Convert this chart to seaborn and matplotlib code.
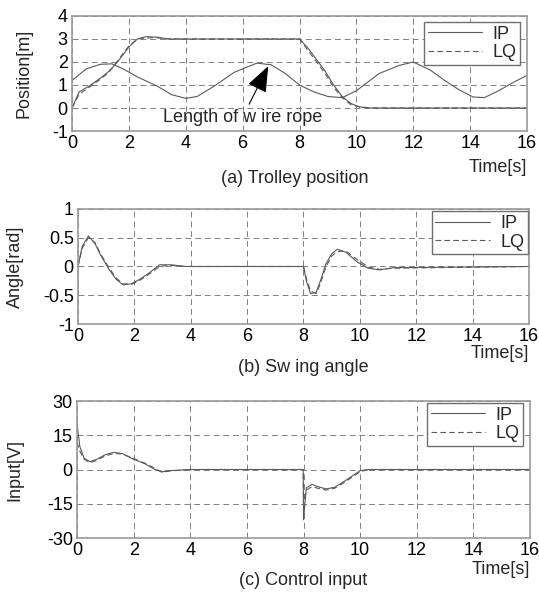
import seaborn as sns
import matplotlib.pyplot as plt

# (a) trolley position [m]
trolley_t_ip = [0, 0.25, 0.6, 1.0, 1.3, 1.6, 2.0, 2.3, 2.6, 3.0, 3.4, 4, 8, 8.3, 8.6, 8.9, 9.2, 9.5, 9.8, 10.1, 10.5, 16]
trolley_ip = [0, 0.7, 0.95, 1.3, 1.6, 2.0, 2.65, 3.0, 3.1, 3.08, 3.0, 3.0, 3.0, 2.6, 2.1, 1.6, 1.0, 0.5, 0.2, 0.05, 0.0, 0.0]
trolley_t_lq = [0, 0.25, 0.6, 1.0, 1.3, 1.6, 2.0, 2.3, 2.6, 3.0, 3.4, 4, 8, 8.3, 8.6, 8.9, 9.2, 9.5, 9.8, 10.1, 10.5, 16]
trolley_lq = [0, 0.6, 0.9, 1.25, 1.55, 2.05, 2.7, 3.0, 3.05, 3.05, 3.0, 3.0, 3.0, 2.5, 2.0, 1.5, 0.9, 0.45, 0.15, 0.05, 0.0, 0.0]

rope_t = [0, 0.5, 1.0, 1.4, 1.8, 2.3, 3.0, 3.5, 4.0, 4.4, 5.0, 5.7, 6.5, 7.0, 7.5, 8.0, 8.5, 9.0, 9.5,
          10.0, 10.8, 11.5, 12.0, 12.6, 13.1, 13.6, 14.1, 14.5, 15.0, 15.5, 16]
rope_len = [1.2, 1.7, 1.9, 1.92, 1.7, 1.35, 0.95, 0.58, 0.42, 0.5, 0.95, 1.55, 1.95, 1.88, 1.5, 1.0, 0.7, 0.5, 0.45,
            0.75, 1.5, 1.85, 2.0, 1.65, 1.2, 0.8, 0.48, 0.45, 0.75, 1.1, 1.42]

# (b) swing angle [rad]
angle_t = [0, 0.15, 0.37, 0.6, 0.8, 1.1, 1.35, 1.6, 1.9, 2.2, 2.5, 2.9, 3.3, 3.8, 8.0, 8.1, 8.25, 8.45, 8.6,
           8.8, 9.0, 9.2, 9.5, 9.9, 10.3, 10.7, 11.2, 16]
angle_ip = [0, 0.35, 0.53, 0.4, 0.2, -0.05, -0.22, -0.32, -0.3, -0.22, -0.12, 0.03, 0.03, 0.0, 0.0, -0.25, -0.47,
            -0.45, -0.25, 0.05, 0.22, 0.3, 0.25, 0.08, -0.03, -0.06, -0.02, 0.0]
angle_lq = [0, 0.32, 0.5, 0.42, 0.22, -0.02, -0.2, -0.3, -0.31, -0.24, -0.14, 0.0, 0.02, 0.0, 0.0, -0.2, -0.43,
            -0.47, -0.3, 0.0, 0.18, 0.26, 0.27, 0.12, -0.01, -0.05, -0.03, 0.0]

# (c) control input [V]
input_t = [0, 0.1, 0.25, 0.45, 0.7, 1.0, 1.3, 1.6, 2.0, 2.4, 2.75, 3.0, 3.3, 4, 7.99, 8.0, 8.1, 8.3, 8.5, 8.8,
           9.1, 9.4, 9.7, 10.0, 10.3, 16]
input_ip = [20, 10, 5, 3.4, 4.5, 6.5, 7.5, 7, 4.5, 2.5, 0, -1, -0.5, 0, 0, -22, -8, -6.5, -7.5, -8.5,
            -7.8, -5.5, -3, -0.5, 0, 0]
input_lq = [12, 8, 4.5, 3.0, 4.0, 6.0, 7.0, 6.8, 4.8, 2.8, 0.5, -1.2, -0.6, 0, 0, -15, -9, -7.5, -8.2, -9,
            -8.2, -6, -3.5, -1, 0, 0]

line_col = "#5a5a5a"
sns.set_style("white")
plt.rcParams["font.family"] = ["Liberation Sans", "DejaVu Sans"]
plt.rcParams["font.size"] = 10.5

fig = plt.figure(figsize=(5.39, 5.92), dpi=100)
ax_a = fig.add_axes([0.1336, 0.7787, 0.8442, 0.1943])
ax_b = fig.add_axes([0.1447, 0.4527, 0.8367, 0.1943])
ax_c = fig.add_axes([0.1429, 0.0912, 0.8404, 0.2314])


def draw(ax, t_ip, y_ip, t_lq, y_lq):
    sns.lineplot(x=t_ip, y=y_ip, ax=ax, color=line_col, lw=0.8, estimator=None, sort=False, label="IP")
    sns.lineplot(x=t_lq, y=y_lq, ax=ax, color=line_col, lw=0.8, estimator=None, sort=False, label="LQ",
                 linestyle=(0, (5, 3)))


draw(ax_a, trolley_t_ip, trolley_ip, trolley_t_lq, trolley_lq)
sns.lineplot(x=rope_t, y=rope_len, ax=ax_a, color=line_col, lw=0.8, estimator=None, sort=False)
draw(ax_b, angle_t, angle_ip, angle_t, angle_lq)
draw(ax_c, input_t, input_ip, input_t, input_lq)

setups = [
    (ax_a, (-1, 4), [-1, 0, 1, 2, 3, 4], "Position[m]", -0.086, "(a) Trolley position", 0.49, -0.41, -0.32, (0.985, 0.948)),
    (ax_b, (-1, 1), [-1, -0.5, 0, 0.5, 1], "Angle[rad]", -0.12, "(b) Sw ing angle", 0.5, -0.38, -0.26, (0.998, 0.98)),
    (ax_c, (-30, 30), [-30, -15, 0, 15, 30], "Input[V]", -0.118, "(c) Control input", 0.5, -0.31, -0.23, (0.985, 0.985)),
]
for ax, ylim, yt, ylab, ylx, title, tx, ty, timey, legpos in setups:
    ax.set_xlim(0, 16)
    ax.set_ylim(*ylim)
    ax.set_xticks(range(0, 17, 2))
    ax.set_yticks(yt)
    ax.set_yticklabels([f"{v:g}" for v in yt])
    ax.tick_params(direction="in", length=3, labelsize=13, colors="#999999", labelcolor="black", pad=3)
    ax.grid(True, linestyle=(0, (6, 4)), color="#808080", lw=0.7)
    for sp in ax.spines.values():
        sp.set_color("#999999")
        sp.set_linewidth(1.2)
    ax.set_xlabel("")
    ax.set_ylabel(ylab, fontsize=13)
    ax.yaxis.set_label_coords(ylx, 0.5)
    ax.text(tx, ty, title, transform=ax.transAxes, ha="center", va="center", fontsize=13)
    ax.text(1.0, timey, "Time[s]", transform=ax.transAxes, ha="right", va="center", fontsize=13)
    leg = ax.legend(loc="upper right", bbox_to_anchor=legpos, frameon=True, fancybox=False, framealpha=1,
                    edgecolor="#707070", handlelength=3.0, fontsize=13, borderpad=0.2, labelspacing=0.1,
                    handletextpad=0.6, borderaxespad=0)
    leg.get_frame().set_linewidth(1.0)

ax_a.annotate("Length of w ire rope", xy=(6.9, 1.82), xytext=(3.2, -0.4), ha="left", va="center", fontsize=13,
              arrowprops=dict(arrowstyle="-|>,head_length=0.9,head_width=0.35", color="black", lw=0.8,
                              mutation_scale=18, shrinkA=1, shrinkB=0))

fig.savefig("out.png", dpi=100)
